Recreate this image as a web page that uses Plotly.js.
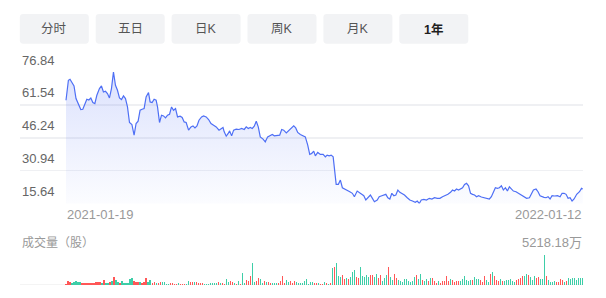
<!DOCTYPE html>
<html>
<head>
<meta charset="utf-8">
<script src="https://cdn.plot.ly/plotly-3.0.1.min.js"></script>
<style>
  html, body { margin: 0; padding: 0; background: #ffffff; }
  #chart { width: 606px; height: 298px; }
</style>
</head>
<body>
<div id="chart"></div>
<script>
// ---------------- DATA ----------------
const tabLabels = ["分时", "五日", "日K", "周K", "月K", "1年"];
const activeTab = "1年";

const yTicks = [76.84, 61.54, 46.24, 30.94, 15.64];
const dateLabels = ["2021-01-19", "2022-01-12"];
const volumeTitle = "成交量（股）";
const volumeUnit = "万";

// price line: trading-day position and price
const priceDay = [
  0,1.2,2,3.2,4,5,6.2,7.4,8.4,9.4,10.4,11.4,12.4,13.4,14.4,15.4,16.7,17.7,18.7,19.7,
  20.7,21.7,22.7,23.7,24.7,25.7,26.7,27.7,28.7,29.7,30.7,31.7,32.9,34,35,36,37,38,39,40,
  41.2,42,43,44,45,45.7,46.7,47.7,48.7,49.7,50.7,51.7,52.7,53.7,54.7,55.7,57,58,59,60,
  61.2,62.4,
  63.4,64.4,65.4,66.4,67.7,68.7,70,71.2,72.4,73.7,75,76.4,77.4,78.4,79,80,81,81.7,82.7,83.7,
  85,86.4,87.7,89,90,91,92,93,94,95,96,97,98.4,99.5,100.7,102,103,104,105.4,106.7,
  107.7,108.7,110,111.4,112.7,113.7,114.7,115.7,117,118.4,119.5,120.7,121.7,122.7,123.7,124.5,125.7,127,128.4,129.5,
  130.4,131.4,132.4,133.4,134,134.9,136,137,138,139,140.4,141.7,143,144,145.4,146.7,147.7,148.7,149.7,150.7,
  152,153,154,155.4,156.4,157.7,158.7,159.7,160.7,161.7,162.7,163.7,164.7,165.7,166.7,167.7,169,170.4,171.7,173,
  174.4,175.4,176.4,177.4,178.7,180,181.4,182.7,184,185.4,186.7,188,189.4,190.7,192,
  193,194,195,196,197,198,199,200,201,202,203,204,205,206,207.4,208.7,210,211.4,212.4,213.4,
  214.4,215.4,216.4,217.4,218.4,219.4,220.4,221.4,222.4,223.4,224.7,226,227.4,228.7,230,231.4,232.4,233.4,234.7,235.7,
  236.7,237.7,238.7,239.7,240.7,241.7,242.7,244,245.4,246.7,247.7,248.7,249.7,250.7,251.7,252.7,253.7,255,256.4,257.4,
  258
];
const priceValue = [
  63.70,72.98,73.44,71.45,70.33,64.48,62.16,59.38,59.52,61.70,64.16,63.83,64.76,62.63,62.16,66.02,69.13,70.33,67.55,67.87,
  66.81,64.76,69.13,76.84,70.66,68.34,64.76,64.02,65.69,64.48,60.58,53.34,52.41,47.44,52.88,53.94,59.05,59.52,59.84,65.23,
  67.27,62.91,62.63,64.16,63.70,60.58,53.34,56.73,56.41,55.48,56.73,57.19,60.58,59.05,59.84,55.94,56.27,55.66,53.62,53.34,
  49.77,51.30,
  51.76,50.83,51.76,54.41,55.94,56.41,55.94,54.73,52.88,52.09,51.30,49.77,50.23,51.02,48.98,46.98,48.23,49.44,47.12,49.77,
  50.23,50.09,50.56,50.09,51.30,50.56,51.02,50.56,51.62,53.94,51.30,46.66,45.59,44.33,46.66,47.12,47.77,47.12,47.44,47.44,
  50.09,49.77,48.51,49.77,51.30,51.76,50.83,48.70,47.77,47.12,46.66,42.80,38.48,38.95,40.02,37.83,39.41,38.48,38.48,37.37,
  38.16,37.83,38.16,37.37,31.98,24.55,24.55,26.55,22.98,22.37,21.77,21.12,20.38,18.80,21.44,20.65,19.91,19.26,17.27,18.33,
  19.59,18.05,16.48,17.27,18.80,19.26,19.59,19.91,18.33,17.73,20.38,19.26,19.59,21.91,20.84,20.38,19.59,18.33,17.27,16.80,
  16.20,16.80,15.64,17.27,17.59,17.27,18.05,17.73,18.33,18.05,18.05,18.80,19.26,19.91,20.84,
  21.91,21.44,22.37,21.91,22.37,22.98,24.55,25.02,23.90,20.38,19.91,19.59,18.80,19.26,18.66,18.33,18.05,17.73,18.80,21.12,
  22.98,22.70,22.98,23.90,21.91,22.98,21.44,23.44,22.37,21.44,21.12,20.38,19.59,18.80,18.05,18.33,20.38,21.91,22.37,21.12,
  19.26,18.80,18.52,18.33,18.80,17.73,19.26,19.12,19.26,18.80,20.38,20.38,19.91,18.05,18.33,16.80,17.73,19.91,21.12,22.70,
  22.37
];

// daily volume (万股)
const volume = [
  176,645,469,352,469,645,528,528,293,293,293,293,293,293,293,469,586,469,352,821,
  352,410,528,645,1349,821,528,293,645,293,352,352,997,1173,645,469,469,469,352,469,
  1173,469,821,352,469,293,352,469,469,469,176,176,293,293,176,176,293,176,176,176,
  176,645,469,469,469,469,293,293,293,176,176,176,293,293,293,293,469,293,410,176,
  997,469,645,469,293,
  176,645,176,2052,352,938,762,1524,3811,469,645,1173,997,293,645,469,469,293,293,293,
  293,293,645,1524,352,821,528,645,352,645,469,293,293,293,645,997,176,469,469,293,
  293,293,176,176,469,293,176,352,2932,3107,3811,1524,1349,1700,997,1173,997,1349,2228,2580,
  1349,1173,3107,1524,1349,1700,1349,1700,1700,1349,1876,1173,1700,645,1173,1700,3107,1349,821,1876,
  1173,821,645,469,997,997,645,
  586,645,1349,1700,997,1876,821,645,997,645,1173,1173,645,293,645,293,645,645,1524,645,
  997,821,469,645,645,645,997,1524,821,645,821,821,1349,997,997,821,469,1524,821,469,
  1876,2228,1524,821,645,997,645,645,821,821,997,645,469,821,997,1173,1524,1524,1876,1700,
  1349,821,1524,1173,1349,997,997,5218.18,1524,821,469,469,645,469,469,997,821,469,645,1173,
  997,1173,1173,821,1173,1173,1173
];
// u = up day (red), d = down day (green)
const volumeDirection = (
  "uuuddddduuuuuuuuuudud" + "dudud" + "dudddddduuuduuudduudu" + "udddduuuuduuudduuduuuudddddddudu" + "udduudu" +
  "dudduuudduudduduudddu" + "uuudduuuddddddddduudu" + "ududududdduudu" + "dddu" + "uddddduuddu" + "udddudduuddddddd" +
  "dduddudduduuu" + "duuuuuduu" + "uudddddduddduuudd" + "uduuudu" + "dddddduuuudduddduu" + "dddudddduuuudu"
).split("");
</script>
<script>
// ---------------- LAYOUT / DRAWING ----------------
const W = 606, H = 298;
const RED = "#ff3a3a", GREEN = "#1cc699";
const px = p => p / W;
const py = p => 1 - p / H;

function roundRect(x0, y0, x1, y1, r) {
  const X = v => px(v).toFixed(5), Y = v => py(v).toFixed(5);
  return "M" + X(x0 + r) + "," + Y(y0) +
    " L" + X(x1 - r) + "," + Y(y0) +
    " Q" + X(x1) + "," + Y(y0) + " " + X(x1) + "," + Y(y0 + r) +
    " L" + X(x1) + "," + Y(y1 - r) +
    " Q" + X(x1) + "," + Y(y1) + " " + X(x1 - r) + "," + Y(y1) +
    " L" + X(x0 + r) + "," + Y(y1) +
    " Q" + X(x0) + "," + Y(y1) + " " + X(x0) + "," + Y(y1 - r) +
    " L" + X(x0) + "," + Y(y0 + r) +
    " Q" + X(x0) + "," + Y(y0) + " " + X(x0 + r) + "," + Y(y0) + " Z";
}

const FONT = "'Liberation Sans', Arial, 'Noto Sans CJK SC', sans-serif";
const nDays = volume.length;
const lastDay = priceDay[priceDay.length - 1];

// plot geometry (pixels)
const plotLeft = 20, plotRight = 583;
const lineStart = 66, lineEnd = 582.7;
const pxPerDay = (lineEnd - lineStart) / lastDay;
const xRange = [-(lineStart - plotLeft) / pxPerDay, lastDay + (plotRight - lineEnd) / pxPerDay];

const volMax = Math.max(...volume);
const yMin = Math.min(...yTicks), yMax = Math.max(...yTicks);

const shapes = [];
const annotations = [];

// tab buttons
tabLabels.forEach((lab, i) => {
  const x0 = 19.8 + i * 75.9, x1 = x0 + 69;
  shapes.push({ type: "path", xref: "paper", yref: "paper", path: roundRect(x0, 14, x1, 43.7, 3.5),
    fillcolor: "#f2f3f5", line: { width: 0 }, layer: "below" });
  const active = lab === activeTab;
  annotations.push({ xref: "paper", yref: "paper", x: px((x0 + x1) / 2), y: py(29), xanchor: "center", yanchor: "middle",
    text: active ? "<b>" + lab + "</b>" : lab, showarrow: false,
    font: { family: FONT, size: 12.5, color: active ? "#1f1f1f" : "#555555" } });
});

// y-axis labels above their grid lines
yTicks.forEach(v => {
  annotations.push({ xref: "paper", yref: "y", x: px(plotLeft), y: v, xanchor: "left", yanchor: "middle", yshift: 12,
    text: v.toFixed(2), showarrow: false, font: { family: FONT, size: 13, color: "#666666" } });
});

// date labels
annotations.push({ xref: "x", yref: "paper", x: 0, y: py(214.5), xanchor: "left", yanchor: "middle", xshift: -1,
  text: dateLabels[0], showarrow: false, font: { family: FONT, size: 13, color: "#999999" } });
annotations.push({ xref: "x", yref: "paper", x: lastDay, y: py(214.5), xanchor: "right", yanchor: "middle", xshift: 1,
  text: dateLabels[1], showarrow: false, font: { family: FONT, size: 13, color: "#999999" } });

// volume header
annotations.push({ xref: "paper", yref: "paper", x: px(plotLeft), y: py(242.5), xanchor: "left", yanchor: "middle",
  text: volumeTitle, showarrow: false, font: { family: FONT, size: 12, color: "#999999" } });
annotations.push({ xref: "x", yref: "paper", x: lastDay, y: py(242.5), xanchor: "right", yanchor: "middle", xshift: 1,
  text: volMax.toFixed(2) + volumeUnit, showarrow: false, font: { family: FONT, size: 13, color: "#999999" } });

// volume baseline
shapes.push({ type: "line", xref: "paper", yref: "y2", x0: px(plotLeft), x1: px(plotRight), y0: 0, y1: 0,
  line: { color: "#e8e8e8", width: 1 }, layer: "below" });

const volX = volume.map((_, i) => i);
const volColor = volumeDirection.map(d => d === "u" ? RED : GREEN);
while (volColor.length < nDays) volColor.push(GREEN);

const traces = [
  {
    type: "bar", x: volX, y: volume, xaxis: "x2", yaxis: "y2",
    width: 0.62, marker: { color: volColor.slice(0, nDays), opacity: 0.85, line: { width: 0 } },
    hoverinfo: "skip"
  },
  {
    type: "scatter", mode: "lines", x: priceDay, y: priceValue, xaxis: "x", yaxis: "y",
    line: { color: "#4e6ff5", width: 1.2 },
    fill: "tozeroy",
    fillgradient: { type: "vertical", start: yMin, stop: yMax,
      colorscale: [[0, "rgba(80,110,245,0.02)"], [1, "rgba(80,110,245,0.20)"]] },
    hoverinfo: "skip"
  }
];

const layout = {
  width: W, height: H,
  margin: { l: 0, r: 0, t: 0, b: 0 },
  paper_bgcolor: "#ffffff", plot_bgcolor: "rgba(0,0,0,0)",
  showlegend: false,
  bargap: 0,
  xaxis: { domain: [px(plotLeft), px(plotRight)], range: xRange, anchor: "y",
    showgrid: false, zeroline: false, showticklabels: false, showline: false, ticks: "", fixedrange: true },
  yaxis: { domain: [py(203.5), py(72)], range: [yMin, yMax], anchor: "x",
    tickmode: "array", tickvals: yTicks, showticklabels: false, ticks: "",
    showgrid: true, gridcolor: "#eff0f3", gridwidth: 1.5, zeroline: false, showline: false, fixedrange: true },
  xaxis2: { domain: [px(plotLeft), px(plotRight)], range: xRange, anchor: "y2",
    showgrid: false, zeroline: false, showticklabels: false, showline: false, ticks: "", fixedrange: true },
  yaxis2: { domain: [py(285), py(255)], range: [0, volMax], anchor: "x2",
    showgrid: false, zeroline: false, showticklabels: false, showline: false, ticks: "", fixedrange: true },
  shapes: shapes,
  annotations: annotations
};

Plotly.newPlot("chart", traces, layout, { staticPlot: true, displayModeBar: false });
</script>
</body>
</html>
